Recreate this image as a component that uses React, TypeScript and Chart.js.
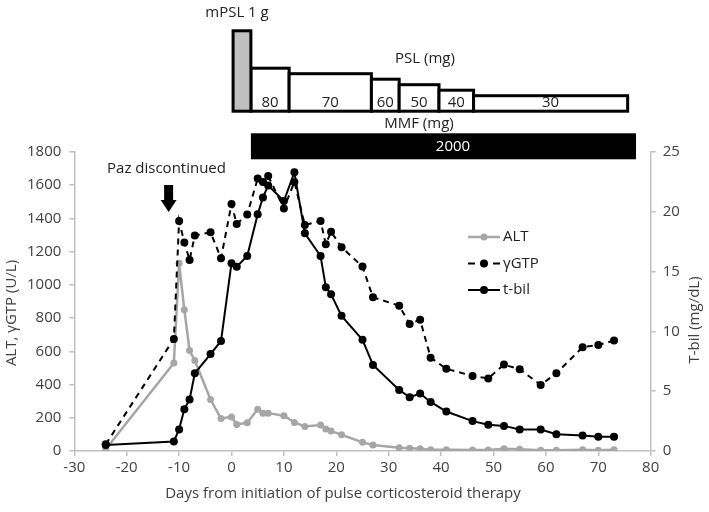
import { useEffect, useRef } from 'react';
import { Chart, registerables } from 'chart.js';

Chart.register(...registerables);

// ---- data ----
const days = [-24, -11, -10, -9, -8, -7, -4, -2, 0, 1, 3, 5, 6, 7, 10, 12, 14, 17, 18, 19, 21, 25, 27, 32, 34, 36, 38, 41, 46, 49, 52, 55, 59, 62, 67, 70, 73];
const altValues = [10, 530, 1130, 850, 605, 545, 310, 195, 205, 160, 170, 252, 228, 228, 212, 172, 148, 156, 132, 120, 98, 52, 36, 20, 17, 14, 8, 8, 6, 6, 14, 10, 4, 4, 8, 4, 8];
const gtpValues = [40, 675, 1385, 1255, 1150, 1297, 1317, 1160, 1487, 1367, 1423, 1640, 1620, 1656, 1460, 1620, 1360, 1385, 1245, 1320, 1227, 1110, 925, 875, 765, 790, 562, 495, 452, 437, 520, 492, 398, 468, 625, 638, 665];
const tbilValues = [0.5, 0.8, 1.8, 3.5, 4.3, 6.5, 8.1, 9.2, 15.7, 15.4, 16.3, 19.8, 21.2, 22.2, 20.9, 23.3, 18.2, 16.3, 13.7, 13.1, 11.3, 9.3, 7.2, 5.1, 4.5, 4.8, 4.1, 3.3, 2.5, 2.2, 2.1, 1.8, 1.8, 1.4, 1.3, 1.2, 1.2];

const seriesNames = ['ALT', 'γGTP', 't-bil'];

// treatment timeline
const mpslLabel = 'mPSL 1 g';
const mpslDays = [0.3, 3.7];
const pslDoses = [80, 70, 60, 50, 40, 30];
const pslStartDays = [3.7, 11, 26.7, 32, 39.6, 46.2];
const pslEndDays = [11, 26.7, 32, 39.6, 46.2, 75.6];
const mmfDays = [3.7, 77.2];
const mmfDoseLabel = '2000';
const pazDay = -12;

const xMin = -30, xMax = 80, xStep = 10;
const yMin = 0, yMax = 1800, yStep = 200;
const y1Min = 0, y1Max = 25, y1Step = 5;

const FONT = '"Open Sans", sans-serif';
const TXT = '#404040';
const AXIS = '#bfbfbf';
const FS = 15;

const overlay = {
  id: 'overlay',
  afterDatasetsDraw(chart: any) {
    const ctx: CanvasRenderingContext2D = chart.ctx;
    const xs = chart.scales.x;
    const px = (d: number) => xs.getPixelForValue(d);
    ctx.save();

    // ---- PSL boxes ----
    const base = 111.2;
    const mgPx = 0.55;
    ctx.lineWidth = 3;
    ctx.strokeStyle = '#000';
    ctx.lineJoin = 'miter';
    ctx.font = `${FS}px ${FONT}`;
    ctx.textAlign = 'center';
    ctx.textBaseline = 'middle';
    pslDoses.forEach((dose, i) => {
      const l = px(pslStartDays[i]);
      const r = px(pslEndDays[i]);
      const top = base - (dose * mgPx - 1);
      ctx.fillStyle = '#fff';
      ctx.fillRect(l, top, r - l, base - top);
      ctx.strokeRect(l, top, r - l, base - top);
      ctx.fillStyle = '#222';
      ctx.fillText(String(dose), (l + r) / 2, 103);
    });
    // mPSL box
    {
      const l = px(mpslDays[0]);
      const r = px(mpslDays[1]);
      const top = 30.8;
      ctx.fillStyle = '#bfbfbf';
      ctx.fillRect(l, top, r - l, base - top);
      ctx.strokeRect(l, top, r - l, base - top);
    }
    ctx.fillStyle = '#222';
    ctx.fillText(mpslLabel, 237, 13);
    ctx.fillText('PSL (mg)', 425, 59);
    ctx.fillText('MMF (mg)', 419, 124);

    // ---- MMF bar ----
    const ml = px(mmfDays[0]);
    const mr = px(mmfDays[1]);
    ctx.fillStyle = '#000';
    ctx.fillRect(ml, 133.3, mr - ml, 26);
    ctx.fillStyle = '#fff';
    ctx.fillText(mmfDoseLabel, 453, 146.5);

    // ---- Paz discontinued arrow ----
    ctx.fillStyle = '#222';
    ctx.fillText('Paz discontinued', 166.5, 169);
    const ax = px(pazDay);
    ctx.fillStyle = '#000';
    ctx.fillRect(ax - 4.5, 185, 9, 15.5);
    ctx.beginPath();
    ctx.moveTo(ax - 8, 200);
    ctx.lineTo(ax + 8, 200);
    ctx.lineTo(ax, 212);
    ctx.closePath();
    ctx.fill();

    // ---- legend ----
    const ds = chart.data.datasets;
    const legY = [237, 263.5, 290];
    ds.forEach((d: any, i: number) => {
      const y = legY[i];
      ctx.strokeStyle = d.borderColor;
      ctx.lineWidth = d.borderWidth;
      if (d.borderDash && d.borderDash.length) {
        ctx.beginPath();
        ctx.moveTo(468, y); ctx.lineTo(475, y);
        ctx.moveTo(493, y); ctx.lineTo(500, y);
        ctx.stroke();
      } else {
        ctx.beginPath();
        ctx.moveTo(468, y); ctx.lineTo(500, y);
        ctx.stroke();
      }
      ctx.fillStyle = d.pointBackgroundColor;
      ctx.beginPath();
      ctx.arc(484, y, d.pointRadius, 0, Math.PI * 2);
      ctx.fill();
      ctx.fillStyle = '#222';
      ctx.textAlign = 'left';
      ctx.fillText(d.label, 503, y);
    });

    // ---- axis titles ----
    ctx.fillStyle = TXT;
    ctx.textAlign = 'center';
    ctx.fillText('Days from initiation of pulse corticosteroid therapy', 343, 494);
    ctx.save();
    ctx.translate(12, 313);
    ctx.rotate(-Math.PI / 2);
    ctx.fillText('ALT, γGTP (U/L)', 0, 0);
    ctx.restore();
    ctx.save();
    ctx.translate(695, 320);
    ctx.rotate(-Math.PI / 2);
    ctx.fillText('T-bil (mg/dL)', 0, 0);
    ctx.restore();

    ctx.restore();
  },
};

export default function App() {
  const ref = useRef<HTMLCanvasElement>(null);
  useEffect(() => {
    if (!ref.current) return;
    const pts = (vals: number[]) => days.map((d, i) => ({ x: d, y: vals[i] }));
    const tickFont = { family: FONT, size: FS };
    const plain = (v: any) => String(v);
    const chart = new Chart(ref.current, {
      type: 'line',
      data: {
        datasets: [
          {
            label: seriesNames[0], data: pts(altValues), yAxisID: 'y', order: 3,
            borderColor: '#a6a6a6', backgroundColor: '#a6a6a6', borderWidth: 2.5,
            pointRadius: 3.5, pointBackgroundColor: '#a6a6a6', pointBorderWidth: 0, tension: 0,
          },
          {
            label: seriesNames[1], data: pts(gtpValues), yAxisID: 'y', order: 2,
            borderColor: '#000', backgroundColor: '#000', borderWidth: 2, borderDash: [6, 5],
            pointRadius: 4, pointBackgroundColor: '#000', pointBorderWidth: 0, tension: 0,
          },
          {
            label: seriesNames[2], data: pts(tbilValues), yAxisID: 'y1', order: 1,
            borderColor: '#000', backgroundColor: '#000', borderWidth: 2,
            pointRadius: 4, pointBackgroundColor: '#000', pointBorderWidth: 0, tension: 0,
          },
        ],
      },
      options: {
        responsive: false,
        animation: false,
        layout: { padding: { top: 152, left: 0, right: 0, bottom: 0 } },
        plugins: { legend: { display: false }, tooltip: { enabled: false } },
        scales: {
          x: {
            type: 'linear', min: xMin, max: xMax,
            ticks: { stepSize: xStep, color: TXT, font: tickFont, padding: 3, maxRotation: 0, callback: plain },
            grid: { drawOnChartArea: false, drawTicks: true, tickLength: 5, color: AXIS, lineWidth: 1.5 },
            border: { color: AXIS, width: 1.5 },
            afterFit: (s: any) => { s.height = 512 - 451; },
          },
          y: {
            type: 'linear', position: 'left', min: yMin, max: yMax,
            ticks: { stepSize: yStep, color: TXT, font: tickFont, padding: 8, callback: plain },
            grid: { drawOnChartArea: false, drawTicks: true, tickLength: 5, color: AXIS, lineWidth: 1.5 },
            border: { color: AXIS, width: 1.5 },
            afterFit: (s: any) => { s.width = 74.3; },
          },
          y1: {
            type: 'linear', position: 'right', min: y1Min, max: y1Max,
            ticks: { stepSize: y1Step, color: TXT, font: tickFont, padding: 7, callback: plain },
            grid: { drawOnChartArea: false, drawTicks: true, tickLength: 5, color: AXIS, lineWidth: 1.5 },
            border: { color: AXIS, width: 1.5 },
            afterFit: (s: any) => { s.width = 709 - 650.7; },
          },
        },
      },
      plugins: [overlay],
    } as any);
    return () => chart.destroy();
  }, []);
  return (
    <div style={{ position: 'absolute', left: 0, top: 0, width: 709, height: 512, background: '#fff' }}>
      <canvas ref={ref} width={709} height={512} style={{ width: 709, height: 512, display: 'block' }} />
    </div>
  );
}
